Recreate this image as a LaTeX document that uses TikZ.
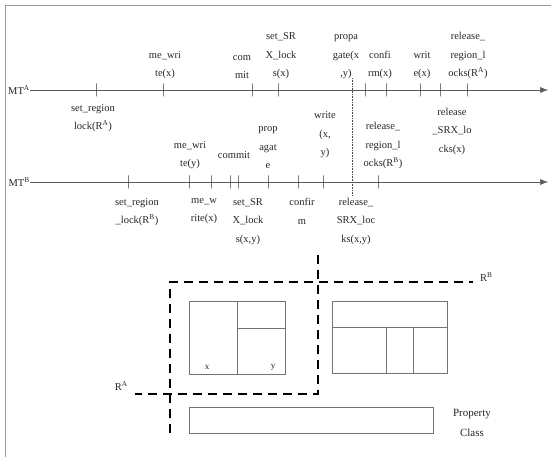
\documentclass[tikz,border=0pt]{standalone}
\usepackage{fontspec}
\setmainfont{Liberation Serif}
\usetikzlibrary{arrows.meta}
\begin{document}
\begin{tikzpicture}[x=1pt,y=-1pt,
  lbl/.style={font=\fontsize{10.5}{18.5}\selectfont, align=center, inner sep=0pt, text=black!85},
  abovelbl/.style={lbl, anchor=south},
  belowlbl/.style={lbl, anchor=north},
  timeline/.style={draw=black!65, line width=0.5pt, -{Latex[length=8pt,width=6pt]}},
  tickmark/.style={draw=black!80, line width=0.6pt, minimum width=0pt, minimum height=13pt, inner sep=0pt, outer sep=0pt},
  region/.style={draw=black, line width=2.3pt, dash pattern=on 9pt off 6pt},
  cell/.style={draw=black!55, line width=0.6pt},
  framel/.style={draw=black!40, line width=0.5pt},
  dotline/.style={draw=black!70, line width=0.6pt, densely dotted}]
\useasboundingbox (0,0) rectangle (551,457);
% frame
\draw[framel] (5,457) -- (5,5) -- (551,5);
% timelines
\node[lbl, anchor=east] (mta) at (30,90) {MT\textsuperscript{A}};
\coordinate (mtaend) at (548,90);
\draw[timeline] (mta.east) -- (mtaend);
\node[lbl, anchor=east] (mtb) at (30,182) {MT\textsuperscript{B}};
\coordinate (mtbend) at (548,182);
\draw[timeline] (mtb.east) -- (mtbend);
% dotted link
\coordinate (dtop) at (352,78);
\coordinate (dbot) at (352,196);
\draw[dotline] (dtop) -- (dbot);
% MT^A ticks
\foreach \n/\x in {a1/96,a2/163,a3/252,a4/278,a5/365,a6/386,a7/420,a8/440,a9/467}
  \node[tickmark, draw] (\n) at (\x,90) {};
% MT^B ticks
\foreach \n/\x in {b1/128,b2/189,b3/211,b4/230,b5/238,b6/268,b7/298,b8/323,b9/378}
  \node[tickmark, draw] (\n) at (\x,182) {};
% MT^A labels
\node[belowlbl] (la1) at (93,104) {set\_region\\lock(R\textsuperscript{A})};
\node[abovelbl] (la2) at (165,79) {me\_wri\\te(x)};
\node[abovelbl] (la3) at (242,79) {com\\mit};
\node[abovelbl] (la4) at (281,79) {set\_SR\\X\_lock\\s(x)};
\node[abovelbl] (la5) at (346,79) {propa\\gate(x\\,y)};
\node[abovelbl] (la6) at (380,79) {confi\\rm(x)};
\node[abovelbl] (la7) at (422,79) {writ\\e(x)};
\node[belowlbl] (la8) at (452,108) {release\\\_SRX\_lo\\cks(x)};
\node[abovelbl] (la9) at (468,79) {release\_\\region\_l\\ocks(R\textsuperscript{A})};
% MT^B labels
\node[belowlbl] (lb1) at (137,198) {set\_region\\\_lock(R\textsuperscript{B})};
\node[abovelbl] (lb2) at (190,169) {me\_wri\\te(y)};
\node[belowlbl] (lb3) at (204,198) {me\_w\\rite(x)};
\node[abovelbl] (lb4) at (234,159) {commit};
\node[belowlbl] (lb5) at (248,198) {set\_SR\\X\_lock\\s(x,y)};
\node[abovelbl] (lb6) at (268,169) {prop\\agat\\e};
\node[belowlbl] (lb7) at (302,198) {confir\\m};
\node[abovelbl] (lb8) at (325,158) {write\\(x,\\y)};
\node[belowlbl] (lb9) at (356,198) {release\_\\SRX\_loc\\ks(x,y)};
\node[abovelbl] (lb10) at (383,169) {release\_\\region\_l\\ocks(R\textsuperscript{B})};
% regions
\coordinate (rbbot) at (170,433);
\coordinate (rbcorner) at (170,282);
\coordinate (rbend) at (473,282);
\draw[region] (rbbot) -- (rbcorner) -- (rbend);
\node[lbl, anchor=west] (rblabel) at (480,277) {R\textsuperscript{B}};
\coordinate (ratop) at (318,255);
\coordinate (racorner) at (318,394);
\coordinate (raend) at (135,394);
\draw[region] (ratop) -- (racorner) -- (raend);
\node[lbl, anchor=east] (ralabel) at (128,386) {R\textsuperscript{A}};
% left data box
\draw[cell] (189,301) rectangle (285,374);
\draw[cell] (237,301) -- (237,374);
\draw[cell] (237,328) -- (285,328);
\node[lbl, font=\fontsize{9}{11}\selectfont] (cx) at (207,367) {x};
\node[lbl, font=\fontsize{9}{11}\selectfont] (cy) at (273,367) {y};
% right data box
\draw[cell] (332,301) rectangle (447,373);
\draw[cell] (332,327) -- (447,327);
\draw[cell] (386,327) -- (386,373);
\draw[cell] (413,327) -- (413,373);
% property class
\draw[cell] (189,407) rectangle (433,433);
\node[lbl, font=\fontsize{11}{20}\selectfont] (pc) at (472,423) {Property\\Class};
\end{tikzpicture}
\end{document}
